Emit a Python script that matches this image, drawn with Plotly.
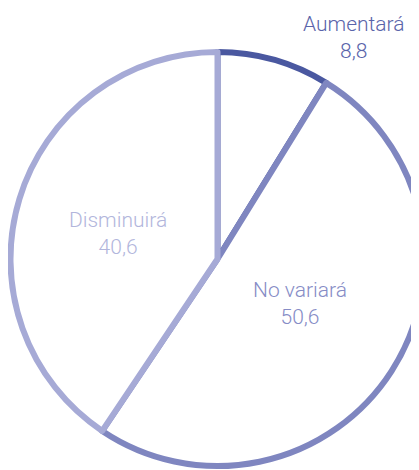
import plotly.graph_objects as go

labels = ["Aumentará", "No variará", "Disminuirá"]
values = [8.8, 50.6, 40.6]
line_colors = ["#4a58a0", "#7f86c0", "#a6aad6"]
text_colors = ["#5a64aa", "#868cc6", "#b2b6dc"]
label_pos = [(346, 30), (292, 295), (110, 226)]  # pixel centres of label blocks

W, H = 419, 470

fig = go.Figure(go.Pie(
    labels=labels,
    values=values,
    sort=False,
    direction="clockwise",
    rotation=0,
    textinfo="none",
    hoverinfo="label+value",
    marker=dict(colors=["white"] * 3, line=dict(color=line_colors, width=6)),
    domain=dict(x=[0, 1], y=[1 - 458 / H, 1 - 44 / H]),
    showlegend=False,
))

for lab, val, col, (px, py) in zip(labels, values, text_colors, label_pos):
    fig.add_annotation(
        x=px / W, y=1 - py / H, xref="paper", yref="paper",
        text=f"{lab}<br>{str(val).replace('.', ',')}",
        showarrow=False, xanchor="center", yanchor="middle",
        font=dict(family="Roboto, Liberation Sans, Arial, sans-serif", size=21,
                  color=col, weight=300),
    )

fig.update_layout(
    width=W, height=H,
    margin=dict(l=0, r=0, t=0, b=0),
    paper_bgcolor="white", plot_bgcolor="white",
)

fig.write_html("out.html")
